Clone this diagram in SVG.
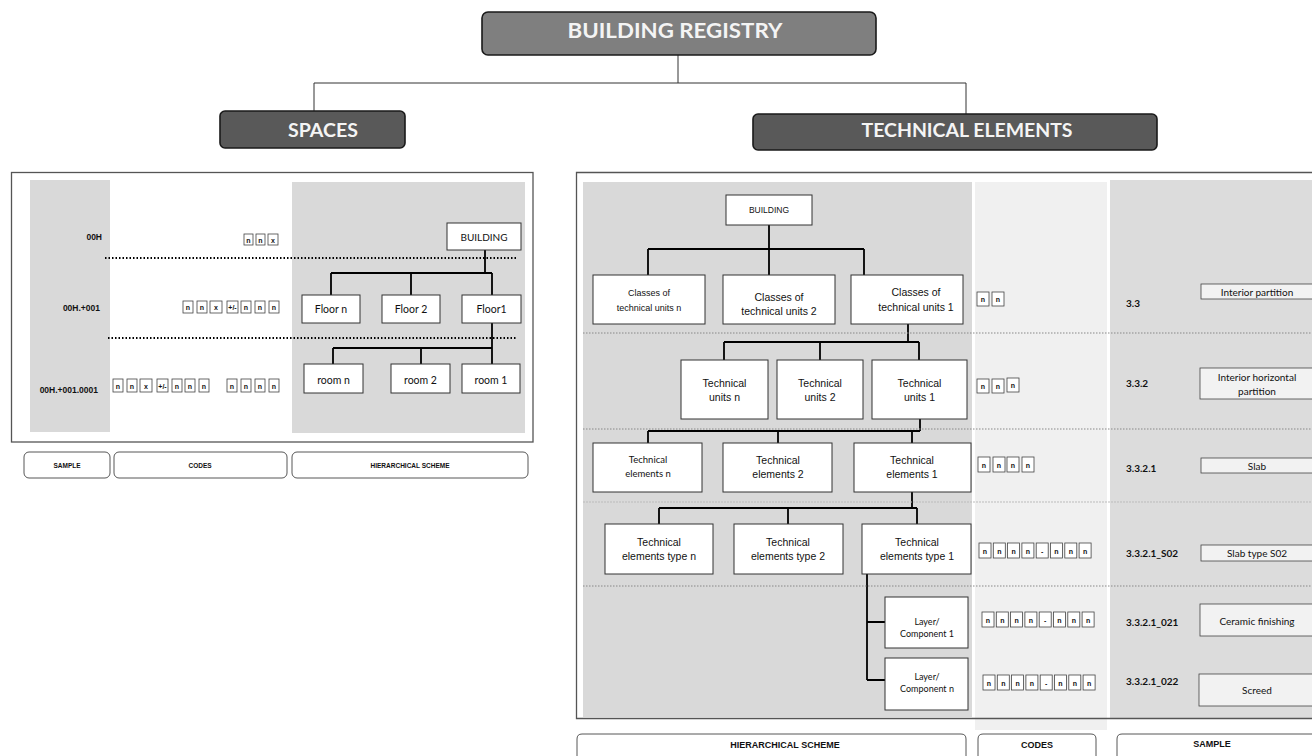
<svg xmlns="http://www.w3.org/2000/svg" width="1312" height="756" viewBox="0 0 1312 756">
<style>
.hdr{stroke:#1a1a1a;stroke-width:1.6}
.ht{font-family:Lato,"Liberation Sans",sans-serif;font-weight:bold;fill:#f4f4f4;text-anchor:middle}
.panel{fill:none;stroke:#555;stroke-width:1.3}
.node{fill:#fff;stroke:#333;stroke-width:1}
.a{font-family:"Liberation Sans",Arial,sans-serif;fill:#111;text-anchor:middle}
.c{font-family:Lato,"Open Sans",sans-serif;fill:#111;text-anchor:middle}
.cb rect{fill:#fff;stroke:#444;stroke-width:0.8}
.cb text{font-family:"Liberation Sans",Arial,sans-serif;font-weight:bold;font-size:7px;fill:#111;text-anchor:middle}
.code{font-family:Lato,"Open Sans",sans-serif;font-weight:bold;font-size:10px;fill:#111}
.samp{fill:#f2f2f2;stroke:#444;stroke-width:0.8}
.lbl{fill:#fff;stroke:#444;stroke-width:0.9}
.lt{font-family:"Liberation Sans",Arial,sans-serif;font-weight:bold;fill:#111;text-anchor:middle}
.con{stroke:#000;stroke-width:1.8;fill:none}
.dotb{stroke:#000;stroke-width:2;stroke-dasharray:1.5 2;fill:none}
.dotg{stroke:#888;stroke-width:1;stroke-dasharray:1.5 1.5;fill:none}
.dotl{stroke:#bbb;stroke-width:1;stroke-dasharray:2 1;fill:none}
</style>

<!-- Backgrounds -->
<g id="backgrounds">
  <rect x="30" y="180" width="80" height="252" fill="#d9d9d9"/>
  <rect x="292" y="182" width="233" height="251" fill="#d9d9d9"/>
  <rect x="11.5" y="172.5" width="521.5" height="269.5" class="panel"/>
  <rect x="583" y="182" width="389" height="535" fill="#d9d9d9"/>
  <rect x="975" y="182" width="132" height="548" fill="#f0f0f0"/>
  <rect x="1110" y="180" width="202" height="538" fill="#dcdcdc"/>
  <path d="M1312 172.5 H576.5 V718.5 H1312" class="panel"/>
</g>

<!-- Connectors -->
<g id="connectors">
  <path d="M678 55 V83 M314 83 H966 M314 83 V111 M966 83 V114" stroke="#333" stroke-width="1" fill="none"/>
  <!-- left tree -->
  <path class="con" d="M485 250 V273 M331 273 H492 M331 273 V295 M411 273 V295 M492 273 V295"/>
  <path class="con" d="M492 323 V348 M333 348 H492 M333 348 V364 M421 348 V364 M492 348 V364"/>
  <!-- right tree -->
  <path class="con" d="M769 225 V275 M648 249 H864 M648 249 V275 M864 249 V275"/>
  <path class="con" d="M908 324 V342 M724 342 H919 M724 342 V360 M820 342 V360 M919 342 V360"/>
  <path class="con" d="M920 419 V431 M648 431 H920 M648 431 V443 M778 431 V443 M912 431 V443"/>
  <path class="con" d="M912 492 V508 M659 508 H917 M659 508 V524 M788 508 V524 M917 508 V524"/>
  <path class="con" d="M867 574 V680 M867 622 H885 M867 680 H885"/>
  <!-- dotted separators -->
  <path class="dotb" d="M105 258 H517 M108 338 H516"/>
  <path class="dotg" d="M583 333 H1312 M583 429 H1312 M583 586 H1312"/>
  <path class="dotl" d="M583 502 H1312"/>
</g>

<!-- Headers -->
<g id="building-registry">
  <rect x="482" y="12" width="394" height="43" rx="6" fill="#7f7f7f" class="hdr"/>
  <text x="675" y="38" class="ht" font-size="20" textLength="215" lengthAdjust="spacingAndGlyphs">BUILDING REGISTRY</text>
</g>
<g id="spaces">
  <rect x="220" y="111" width="185" height="37" rx="5" fill="#595959" class="hdr"/>
  <text x="323" y="137" class="ht" font-size="18" textLength="70" lengthAdjust="spacingAndGlyphs">SPACES</text>
</g>
<g id="technical-elements">
  <rect x="753" y="114" width="404" height="36" rx="5" fill="#595959" class="hdr"/>
  <text x="967" y="137" class="ht" font-size="18" textLength="211" lengthAdjust="spacingAndGlyphs">TECHNICAL ELEMENTS</text>
</g>

<!-- Left panel: sample labels -->
<g id="left-samples" class="lt" font-size="8.5">
  <text x="102" y="240" text-anchor="end">00H</text>
  <text x="100" y="311" text-anchor="end">00H.+001</text>
  <text x="98" y="393" text-anchor="end">00H.+001.0001</text>
</g>

<!-- Left panel: codes -->
<g id="left-codes" class="cb">
  <rect x="244" y="234" width="9" height="11"/><text x="248.5" y="242.5">n</text>
  <rect x="256" y="234" width="9" height="11"/><text x="260.5" y="242.5">n</text>
  <rect x="268" y="234" width="10" height="11"/><text x="273" y="242.5">x</text>

  <rect x="183" y="301" width="10" height="12"/><text x="188" y="310">n</text>
  <rect x="197" y="301" width="10" height="12"/><text x="202" y="310">n</text>
  <rect x="210" y="301" width="12" height="12"/><text x="216" y="310">x</text>
  <rect x="227" y="301" width="11" height="12"/><text x="232.5" y="310">+/-</text>
  <rect x="241" y="301" width="10" height="12"/><text x="246" y="310">n</text>
  <rect x="255" y="301" width="10" height="12"/><text x="260" y="310">n</text>
  <rect x="269" y="301" width="10" height="12"/><text x="274" y="310">n</text>

  <rect x="113" y="379" width="10" height="13"/><text x="118" y="388.5">n</text>
  <rect x="127" y="379" width="10" height="13"/><text x="132" y="388.5">n</text>
  <rect x="140" y="379" width="12" height="13"/><text x="146" y="388.5">x</text>
  <rect x="157" y="379" width="11" height="13"/><text x="162.5" y="388.5">+/-</text>
  <rect x="172" y="379" width="10" height="13"/><text x="177" y="388.5">n</text>
  <rect x="185" y="379" width="10" height="13"/><text x="190" y="388.5">n</text>
  <rect x="199" y="379" width="10" height="13"/><text x="204" y="388.5">n</text>
  <rect x="227" y="379" width="10" height="13"/><text x="232" y="388.5">n</text>
  <rect x="241" y="379" width="10" height="13"/><text x="246" y="388.5">n</text>
  <rect x="255" y="379" width="10" height="13"/><text x="260" y="388.5">n</text>
  <rect x="269" y="379" width="10" height="13"/><text x="274" y="388.5">n</text>
</g>

<!-- Left tree nodes -->
<g id="l-building"><rect x="447" y="223" width="74" height="27" class="node"/><text x="484" y="240.5" class="c" font-size="10">BUILDING</text></g>
<g id="l-floor-n"><rect x="302" y="295" width="58" height="28" class="node"/><text x="331" y="313" class="c" font-size="10.5">Floor n</text></g>
<g id="l-floor-2"><rect x="382" y="295" width="58" height="28" class="node"/><text x="411" y="313" class="c" font-size="10.5">Floor 2</text></g>
<g id="l-floor-1"><rect x="462" y="295" width="59" height="28" class="node"/><text x="491.5" y="313" class="c" font-size="10.5">Floor1</text></g>
<g id="l-room-n"><rect x="304" y="364" width="59" height="29" class="node"/><text x="333.5" y="383.5" class="c" font-size="10.5">room n</text></g>
<g id="l-room-2"><rect x="391" y="364" width="59" height="29" class="node"/><text x="420.5" y="383.5" class="c" font-size="10.5">room 2</text></g>
<g id="l-room-1"><rect x="462" y="364" width="58" height="29" class="node"/><text x="491" y="383.5" class="c" font-size="10.5">room 1</text></g>

<!-- Left bottom labels -->
<g id="l-label-sample"><rect x="24" y="452" width="86" height="26" rx="5" class="lbl"/><text x="67" y="468" class="lt" font-size="6.5">SAMPLE</text></g>
<g id="l-label-codes"><rect x="114" y="452" width="173" height="26" rx="5" class="lbl"/><text x="200" y="468" class="lt" font-size="6.5">CODES</text></g>
<g id="l-label-scheme"><rect x="292" y="452" width="236" height="26" rx="5" class="lbl"/><text x="410" y="468" class="lt" font-size="6.5">HIERARCHICAL SCHEME</text></g>

<!-- Right tree nodes -->
<g id="r-building"><rect x="726" y="195" width="86" height="30" class="node"/><text x="769" y="213" class="a" font-size="8.5">BUILDING</text></g>
<g id="r-classes-n"><rect x="593" y="275" width="112" height="49" class="node"/><text class="a" font-size="9"><tspan x="649" y="296">Classes of</tspan><tspan x="649" y="311">technical units n</tspan></text></g>
<g id="r-classes-2"><rect x="723" y="275" width="112" height="49" class="node"/><text class="a" font-size="10.5"><tspan x="779" y="301">Classes of</tspan><tspan x="779" y="315">technical units 2</tspan></text></g>
<g id="r-classes-1"><rect x="851" y="275" width="112" height="49" class="node"/><text class="a" font-size="10.5"><tspan x="916" y="296">Classes of</tspan><tspan x="916" y="311">technical units 1</tspan></text></g>

<g id="r-units-n"><rect x="681" y="360" width="87" height="59" class="node"/><text class="a" font-size="10.5"><tspan x="724.5" y="387">Technical</tspan><tspan x="724.5" y="401">units n</tspan></text></g>
<g id="r-units-2"><rect x="777" y="360" width="86" height="59" class="node"/><text class="a" font-size="10.5"><tspan x="820" y="387">Technical</tspan><tspan x="820" y="401">units 2</tspan></text></g>
<g id="r-units-1"><rect x="872" y="360" width="95" height="59" class="node"/><text class="a" font-size="10.5"><tspan x="919.5" y="387">Technical</tspan><tspan x="919.5" y="401">units 1</tspan></text></g>

<g id="r-elements-n"><rect x="593" y="443" width="109" height="49" class="node"/><text class="c" font-size="9.5"><tspan x="648" y="463">Technical</tspan><tspan x="648" y="477">elements n</tspan></text></g>
<g id="r-elements-2"><rect x="723" y="443" width="109" height="49" class="node"/><text class="a" font-size="10.5"><tspan x="778" y="464">Technical</tspan><tspan x="778" y="478">elements 2</tspan></text></g>
<g id="r-elements-1"><rect x="854" y="443" width="117" height="49" class="node"/><text class="a" font-size="10.5"><tspan x="912" y="464">Technical</tspan><tspan x="912" y="478">elements 1</tspan></text></g>

<g id="r-type-n"><rect x="605" y="524" width="108" height="50" class="node"/><text class="a" font-size="10.5"><tspan x="659" y="546">Technical</tspan><tspan x="659" y="560">elements type n</tspan></text></g>
<g id="r-type-2"><rect x="734" y="524" width="109" height="50" class="node"/><text class="a" font-size="10.5"><tspan x="788" y="546">Technical</tspan><tspan x="788" y="560">elements type 2</tspan></text></g>
<g id="r-type-1"><rect x="862" y="524" width="109" height="50" class="node"/><text class="a" font-size="10.5"><tspan x="917" y="546">Technical</tspan><tspan x="917" y="560">elements type 1</tspan></text></g>

<g id="r-layer-1"><rect x="885" y="597" width="83" height="51" class="node"/><text class="c" font-size="9"><tspan x="927" y="625">Layer/</tspan><tspan x="927" y="637">Component 1</tspan></text></g>
<g id="r-layer-n"><rect x="885" y="658" width="83" height="52" class="node"/><text class="c" font-size="9"><tspan x="927" y="680">Layer/</tspan><tspan x="927" y="692">Component n</tspan></text></g>

<!-- Right codes -->
<g id="right-codes" class="cb">
  <rect x="977" y="292" width="12" height="14"/><text x="983" y="302">n</text>
  <rect x="992" y="292" width="12" height="14"/><text x="998" y="302">n</text>

  <rect x="977" y="379" width="12" height="14"/><text x="983" y="389">n</text>
  <rect x="992" y="379" width="12" height="14"/><text x="998" y="389">n</text>
  <rect x="1007" y="378" width="12" height="14"/><text x="1013" y="388">n</text>

  <rect x="978" y="457" width="12" height="15"/><text x="984" y="467.5">n</text>
  <rect x="993" y="457" width="12" height="15"/><text x="999" y="467.5">n</text>
  <rect x="1007" y="457" width="12" height="15"/><text x="1013" y="467.5">n</text>
  <rect x="1022" y="457" width="12" height="15"/><text x="1028" y="467.5">n</text>

  <rect x="979" y="543" width="12" height="15"/><text x="985" y="553.5">n</text>
  <rect x="993.3" y="543" width="12" height="15"/><text x="999.3" y="553.5">n</text>
  <rect x="1007.6" y="543" width="12" height="15"/><text x="1013.6" y="553.5">n</text>
  <rect x="1021.9" y="543" width="12" height="15"/><text x="1027.9" y="553.5">n</text>
  <rect x="1036.2" y="543" width="12" height="15"/><text x="1042.2" y="553.5">-</text>
  <rect x="1050.5" y="543" width="12" height="15"/><text x="1056.5" y="553.5">n</text>
  <rect x="1064.8" y="543" width="12" height="15"/><text x="1070.8" y="553.5">n</text>
  <rect x="1079.1" y="543" width="12" height="15"/><text x="1085.1" y="553.5">n</text>

  <rect x="982" y="612" width="12" height="15"/><text x="988" y="622.5">n</text>
  <rect x="996.3" y="612" width="12" height="15"/><text x="1002.3" y="622.5">n</text>
  <rect x="1010.6" y="612" width="12" height="15"/><text x="1016.6" y="622.5">n</text>
  <rect x="1024.9" y="612" width="12" height="15"/><text x="1030.9" y="622.5">n</text>
  <rect x="1039.2" y="612" width="12" height="15"/><text x="1045.2" y="622.5">-</text>
  <rect x="1053.5" y="612" width="12" height="15"/><text x="1059.5" y="622.5">n</text>
  <rect x="1067.8" y="612" width="12" height="15"/><text x="1073.8" y="622.5">n</text>
  <rect x="1082.1" y="612" width="12" height="15"/><text x="1088.1" y="622.5">n</text>

  <rect x="983" y="675" width="12" height="15"/><text x="989" y="685.5">n</text>
  <rect x="997.3" y="675" width="12" height="15"/><text x="1003.3" y="685.5">n</text>
  <rect x="1011.6" y="675" width="12" height="15"/><text x="1017.6" y="685.5">n</text>
  <rect x="1025.9" y="675" width="12" height="15"/><text x="1031.9" y="685.5">n</text>
  <rect x="1040.2" y="675" width="12" height="15"/><text x="1046.2" y="685.5">-</text>
  <rect x="1054.5" y="675" width="12" height="15"/><text x="1060.5" y="685.5">n</text>
  <rect x="1068.8" y="675" width="12" height="15"/><text x="1074.8" y="685.5">n</text>
  <rect x="1083.1" y="675" width="12" height="15"/><text x="1089.1" y="685.5">n</text>
</g>

<!-- Right sample codes -->
<g id="right-sample-codes" class="code">
  <text x="1126" y="307">3.3</text>
  <text x="1126" y="387">3.3.2</text>
  <text x="1126" y="472">3.3.2.1</text>
  <text x="1126" y="557">3.3.2.1_S02</text>
  <text x="1126" y="626">3.3.2.1_021</text>
  <text x="1126" y="685">3.3.2.1_022</text>
</g>

<!-- Right sample names -->
<g id="s-interior-partition"><rect x="1201" y="284" width="113" height="15" class="samp"/><text x="1257" y="295.5" class="c" font-size="10">Interior partition</text></g>
<g id="s-interior-horizontal"><rect x="1200" y="368" width="114" height="31" class="samp"/><text class="c" font-size="10"><tspan x="1257" y="380.5">Interior horizontal</tspan><tspan x="1257" y="394.5">partition</tspan></text></g>
<g id="s-slab"><rect x="1201" y="458" width="113" height="15" class="samp"/><text x="1257" y="469.5" class="c" font-size="10">Slab</text></g>
<g id="s-slab-type"><rect x="1201" y="545" width="113" height="16" class="samp"/><text x="1257" y="556.5" class="c" font-size="10">Slab type S02</text></g>
<g id="s-ceramic"><rect x="1200" y="604" width="114" height="32" class="samp"/><text x="1257" y="624.5" class="c" font-size="10">Ceramic finishing</text></g>
<g id="s-screed"><rect x="1199" y="674" width="115" height="32" class="samp"/><text x="1257" y="693.5" class="c" font-size="10">Screed</text></g>

<!-- Right bottom labels -->
<g id="r-label-scheme"><path d="M577 760 V739 Q577 734 582 734 H961 Q966 734 966 739 V760" class="lbl"/><text x="785" y="747.5" class="lt" font-size="9">HIERARCHICAL SCHEME</text></g>
<g id="r-label-codes"><path d="M978 760 V739 Q978 734 983 734 H1091 Q1096 734 1096 739 V760" class="lbl"/><text x="1037" y="747.5" class="lt" font-size="9">CODES</text></g>
<g id="r-label-sample"><path d="M1117 760 V739 Q1117 734 1122 734 H1320" class="lbl"/><text x="1212" y="747" class="lt" font-size="9">SAMPLE</text></g>
</svg>
